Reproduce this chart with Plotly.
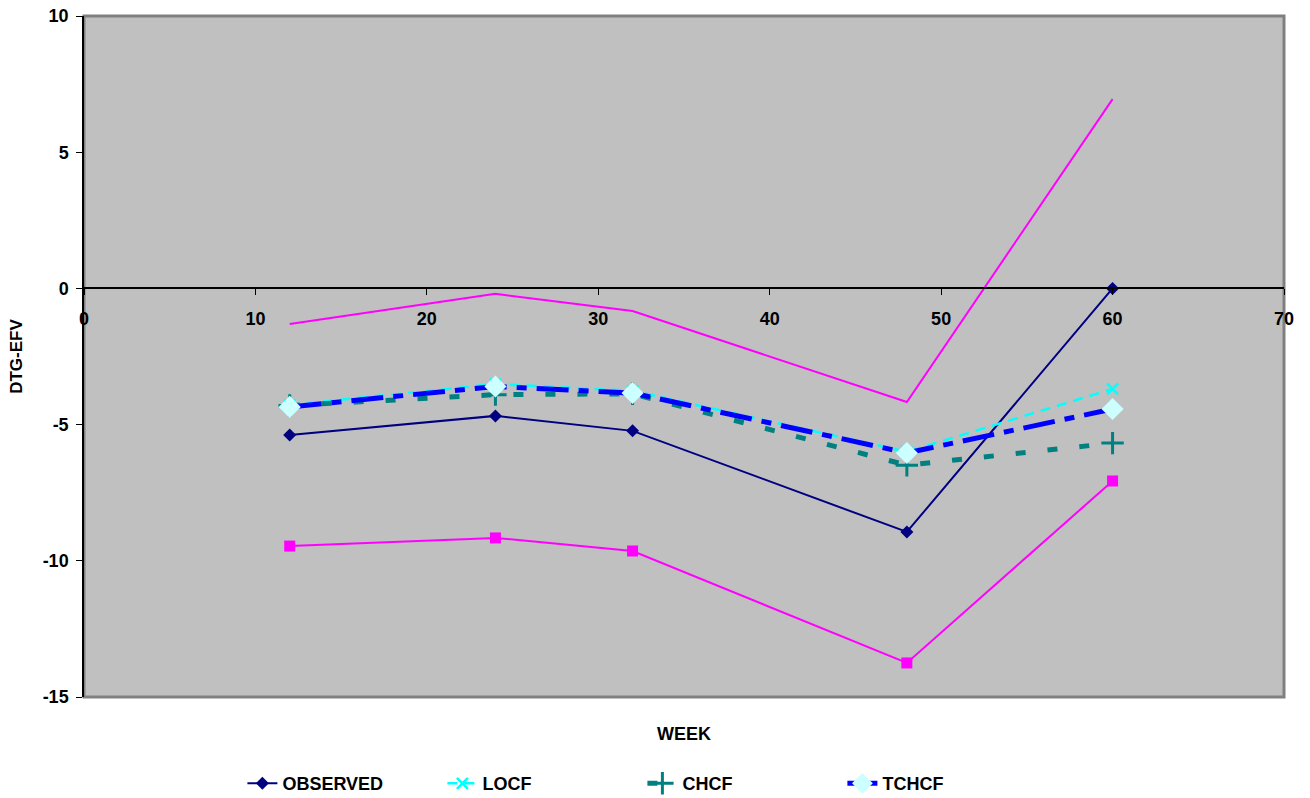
import plotly.graph_objects as go

weeks = [12, 24, 32, 48, 60]
observed = [-5.38, -4.68, -5.23, -8.94, 0.0]
locf = [-4.28, -3.51, -3.76, -6.00, -3.69]
chcf = [-4.30, -3.90, -3.87, -6.49, -5.68]
tchcf = [-4.35, -3.60, -3.84, -6.04, -4.43]
upper = [-1.31, -0.20, -0.83, -4.17, 6.95]
lower = [-9.46, -9.16, -9.64, -13.75, -7.07]

x_ticks = [0, 10, 20, 30, 40, 50, 60, 70]
y_ticks = [-15, -10, -5, 0, 5, 10]

FONT = "Liberation Sans"

fig = go.Figure()

fig.add_trace(go.Scatter(x=weeks, y=upper, mode="lines", showlegend=False,
                         line=dict(color="#FF00FF", width=2)))
fig.add_trace(go.Scatter(x=weeks, y=lower, mode="lines+markers", showlegend=False,
                         line=dict(color="#FF00FF", width=2),
                         marker=dict(symbol="square", size=11, color="#FF00FF")))
fig.add_trace(go.Scatter(x=weeks, y=observed, mode="lines+markers", name="OBSERVED",
                         line=dict(color="#000080", width=2),
                         marker=dict(symbol="diamond", size=10, color="#000080")))
fig.add_trace(go.Scatter(x=weeks, y=locf, mode="lines+markers", name="LOCF",
                         line=dict(color="#00FFFF", width=2.5, dash="10px,7px"),
                         marker=dict(symbol="x-thin", size=11, color="#00FFFF",
                                     line=dict(color="#00FFFF", width=2.5))))
fig.add_trace(go.Scatter(x=weeks, y=chcf, mode="lines+markers", name="CHCF",
                         line=dict(color="#008080", width=5, dash="10px,22px"),
                         marker=dict(symbol="cross-thin", size=16, color="#008080",
                                     line=dict(color="#008080", width=3))))
fig.add_trace(go.Scatter(x=weeks, y=tchcf, mode="lines+markers", name="TCHCF",
                         line=dict(color="#0000FF", width=5, dash="32px,10px,10px,10px"),
                         marker=dict(symbol="diamond", size=17, color="#CCFFFF")))

fig.add_shape(type="rect", xref="paper", yref="paper", x0=0, x1=1, y0=0, y1=1,
              line=dict(color="#808080", width=3), layer="below")

fig.add_annotation(text="<b>WEEK</b>", xref="paper", yref="paper", x=0.5, y=-0.037,
                   showarrow=False, yanchor="top",
                   font=dict(family=FONT, size=18, color="black"))

fig.update_layout(
    width=1310, height=798,
    margin=dict(l=84, r=26, t=16, b=101, autoexpand=False),
    paper_bgcolor="white", plot_bgcolor="#C0C0C0",
    font=dict(family=FONT, color="black"),
    xaxis=dict(range=[0, 70], tickvals=x_ticks, ticktext=[f"<b>{v}</b>" for v in x_ticks],
               showgrid=False, zeroline=False,
               anchor="free", position=0.6, showline=True, linecolor="black",
               linewidth=1.5, ticks="outside", ticklen=6, tickcolor="black",
               ticklabelstandoff=8,
               tickfont=dict(family=FONT, size=18, color="black")),
    yaxis=dict(range=[-15, 10], tickvals=y_ticks, ticktext=[f"<b>{v}</b>" for v in y_ticks],
               showgrid=False, zeroline=False,
               showline=True, linecolor="black", linewidth=1.5, ticks="outside",
               ticklen=6, tickcolor="black", ticklabelstandoff=4,
               title=dict(text="<b>DTG-EFV</b>", standoff=16,
                          font=dict(family=FONT, size=17, color="black")),
               tickfont=dict(family=FONT, size=18, color="black")),
    legend=dict(orientation="h", x=0.132, xanchor="left", y=-0.1, yanchor="top",
                entrywidth=155, entrywidthmode="pixels",
                font=dict(family=FONT, size=18, color="black"),
                bgcolor="rgba(0,0,0,0)"),
)

fig.for_each_trace(lambda t: t.update(name=f"<b>{t.name}</b>") if t.name else None)

fig.write_html("out.html", config={"displayModeBar": False},
               post_script="document.body.style.margin='0';")
